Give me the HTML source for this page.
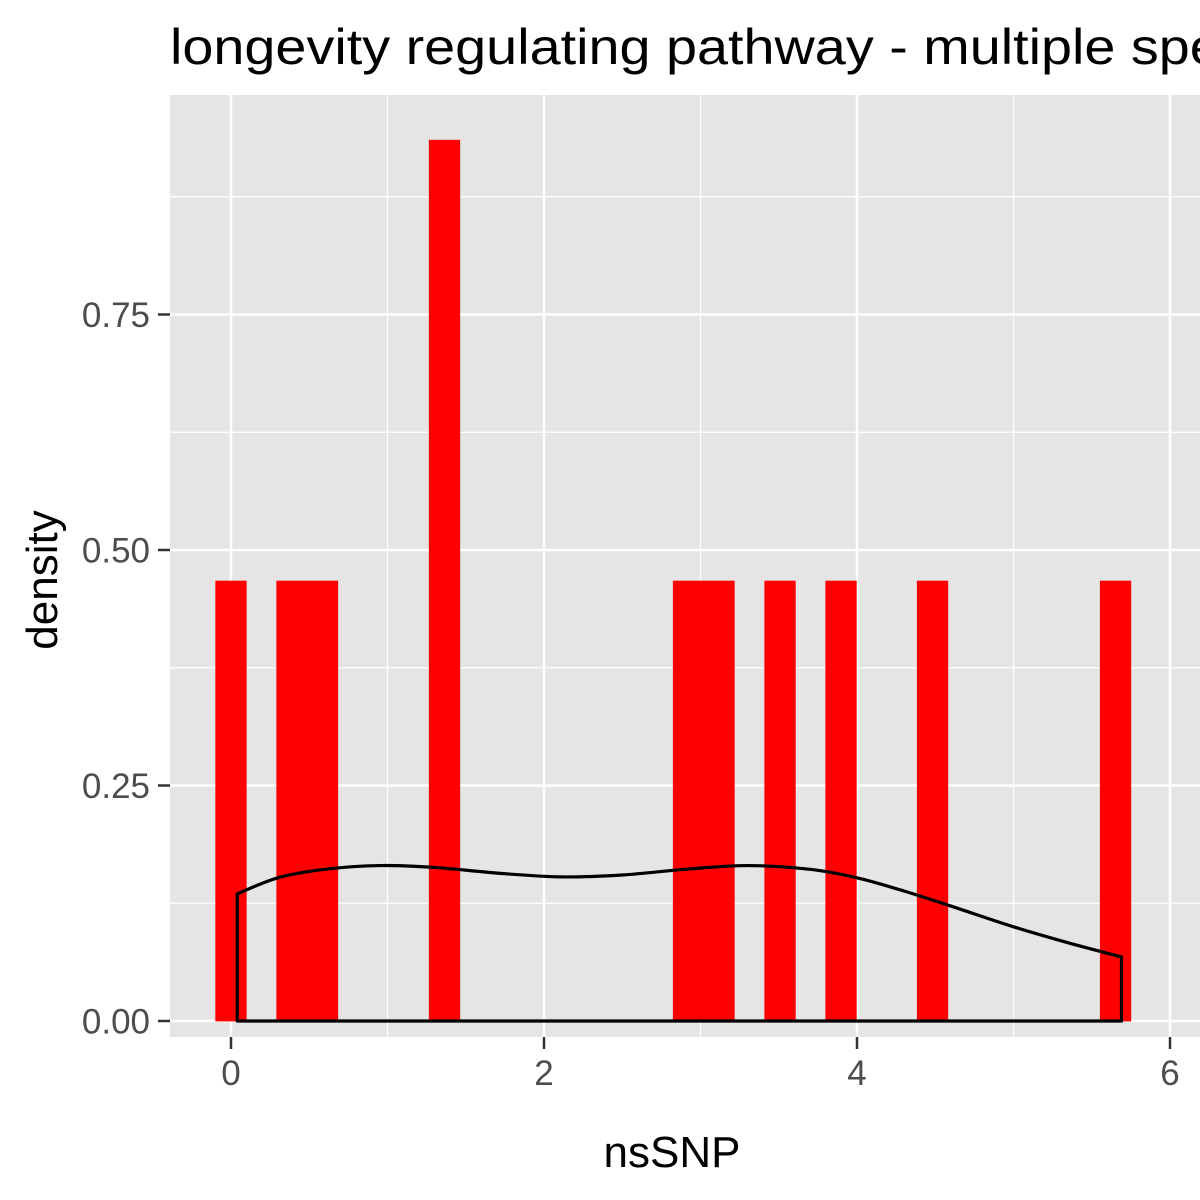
<!DOCTYPE html>
<html><head><meta charset="utf-8"><style>
html,body{margin:0;padding:0;background:#fff;overflow:hidden;}
svg{display:block;font-family:"Liberation Sans",Arial,sans-serif;}
</style></head><body>
<svg id="chart" width="1200" height="1200" viewBox="0 0 1200 1200">
<rect x="0" y="0" width="1200" height="1200" fill="#fff"/>
<text x="170" y="64" font-size="50" textLength="1150" lengthAdjust="spacingAndGlyphs" fill="#000">longevity regulating pathway - multiple species</text>
<g id="panel"></g>
<text x="672" y="1167" font-size="44" text-anchor="middle" fill="#000">nsSNP</text>
<text transform="translate(57,580) rotate(-90)" font-size="44" text-anchor="middle" fill="#000">density</text>
</svg>
<script>
const binCenters = [0, 2, 3, 7, 15, 16, 18, 20, 23, 29];
const binDensity = [0.467, 0.467, 0.467, 0.935, 0.467, 0.467, 0.467, 0.467, 0.467, 0.467];
const binWidth = 0.1949;
const kdeX = [0.04, 0.3, 0.6, 0.95, 1.3, 1.7, 2.1, 2.5, 2.9, 3.3, 3.7, 4.0, 4.3, 4.6, 5.0, 5.35, 5.69];
const kdeY = [0.135, 0.152, 0.161, 0.165, 0.163, 0.157, 0.153, 0.155, 0.161, 0.165, 0.161, 0.152, 0.138, 0.122, 0.1, 0.083, 0.068];
const xTicks = [0, 2, 4, 6];
const xMinor = [1, 3, 5];
const yTicks = [0, 0.25, 0.5, 0.75];
const yTickLabels = ["0.00", "0.25", "0.50", "0.75"];
const yMinor = [0.125, 0.375, 0.625, 0.875];

const NS = "http://www.w3.org/2000/svg";
const X = v => 231 + v * 156.5;
const Y = v => 1021 - v * 942;
const P = {l:170, r:1200, t:95, b:1037};
const g = document.getElementById('panel');
const svg = document.getElementById('chart');
function mk(tag, attrs, parent){const e=document.createElementNS(NS,tag);for(const k in attrs)e.setAttribute(k,attrs[k]);(parent||g).appendChild(e);return e;}

const bg = mk('rect',{x:P.l,y:P.t,width:P.r-P.l,height:P.b-P.t,fill:'#e5e5e5'});


xMinor.forEach(v=>{const l=mk('line',{x1:X(v),x2:X(v),y1:P.t,y2:P.b,stroke:'#fff','stroke-width':1.2});

});
yMinor.forEach(v=>{const l=mk('line',{x1:P.l,x2:P.r,y1:Y(v),y2:Y(v),stroke:'#fff','stroke-width':1.2});

});
xTicks.forEach(v=>{const l=mk('line',{x1:X(v),x2:X(v),y1:P.t,y2:P.b,stroke:'#fff','stroke-width':2.5});

});
yTicks.forEach(v=>{const l=mk('line',{x1:P.l,x2:P.r,y1:Y(v),y2:Y(v),stroke:'#fff','stroke-width':2.5});

});

binCenters.forEach((b,i)=>{const c=b*binWidth;const r=mk('rect',{x:X(c-binWidth/2),y:Y(binDensity[i]),width:binWidth*156.5,height:Y(0)-Y(binDensity[i]),fill:'#ff0000',stroke:'#ff0000','stroke-width':0.8});

});

const pts = kdeX.map((x,i)=>[X(x),Y(kdeY[i])]);
let d = `M${X(kdeX[0])},${Y(0)} L${pts[0][0]},${pts[0][1]}`;
for(let i=0;i<pts.length-1;i++){
  const p0=pts[Math.max(0,i-1)],p1=pts[i],p2=pts[i+1],p3=pts[Math.min(pts.length-1,i+2)];
  const c1=[p1[0]+(p2[0]-p0[0])/6,p1[1]+(p2[1]-p0[1])/6];
  const c2=[p2[0]-(p3[0]-p1[0])/6,p2[1]-(p3[1]-p1[1])/6];
  d+=` C${c1[0]},${c1[1]} ${c2[0]},${c2[1]} ${p2[0]},${p2[1]}`;
}
d += ` L${X(kdeX[kdeX.length-1])},${Y(0)} Z`;
const curve = mk('path',{d:d,fill:'none',stroke:'#000','stroke-width':3.2,'stroke-linejoin':'round'});



xTicks.forEach(v=>{mk('line',{x1:X(v),x2:X(v),y1:P.b,y2:P.b+12,stroke:'#333','stroke-width':2.5});
const t=mk('text',{x:X(v),y:P.b+48,'font-size':35,fill:'#4d4d4d','text-anchor':'middle'},svg);t.textContent=v;

});
yTicks.forEach((v,i)=>{mk('line',{x1:P.l-12,x2:P.l,y1:Y(v),y2:Y(v),stroke:'#333','stroke-width':2.5});
const t=mk('text',{x:P.l-20,y:Y(v)+12.5,'font-size':35,fill:'#4d4d4d','text-anchor':'end'},svg);t.textContent=yTickLabels[i];

});
</script>
</body></html>
